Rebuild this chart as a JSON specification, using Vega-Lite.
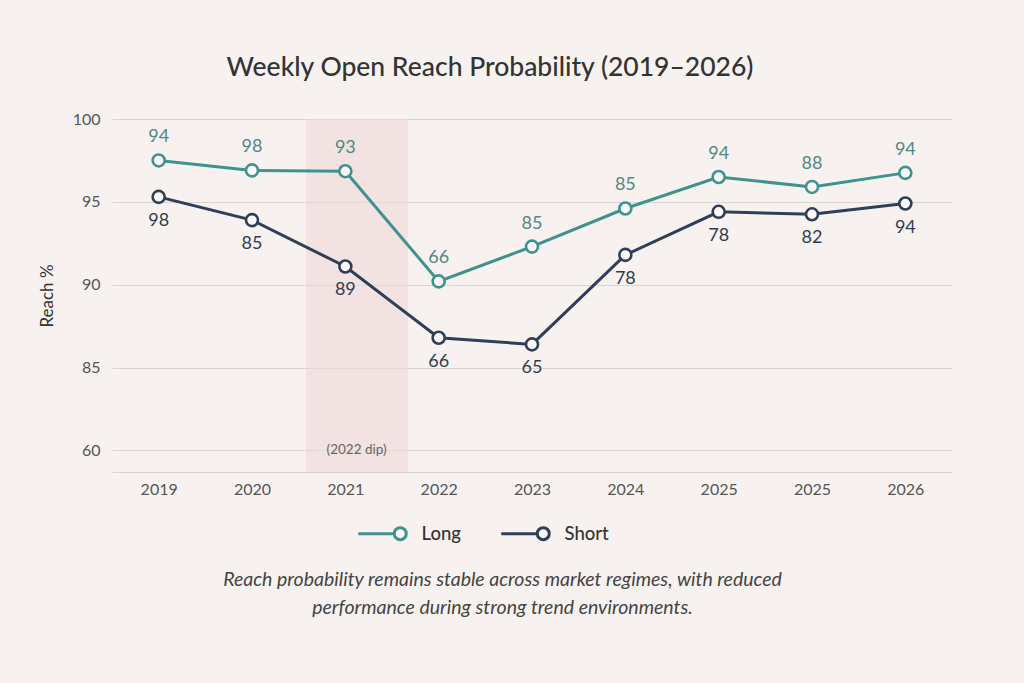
{
  "$schema": "https://vega.github.io/schema/vega-lite/v6.json",
  "autosize": {"type": "none"},
  "padding": {"left": 112, "top": 119, "right": 72, "bottom": 211},
  "width": 840,
  "height": 353,
  "background": "#f7f2f0",
  "config": {
    "view": {"stroke": null},
    "font": "Lato",
    "text": {"font": "Lato"}
  },
  "title": {
    "text": "Weekly Open Reach Probability (2019–2026)",
    "font": "Lato",
    "fontSize": 26.5,
    "fontWeight": 500,
    "color": "#333333",
    "anchor": "middle",
    "dx": -42,
    "offset": 30
  },
  "datasets": {
    "reach": [
      {"i": 0, "year": "2019", "series": "Long", "value": 97.5, "label": "94"},
      {"i": 1, "year": "2020", "series": "Long", "value": 96.9, "label": "98"},
      {"i": 2, "year": "2021", "series": "Long", "value": 96.85, "label": "93"},
      {"i": 3, "year": "2022", "series": "Long", "value": 90.2, "label": "66"},
      {"i": 4, "year": "2023", "series": "Long", "value": 92.3, "label": "85"},
      {"i": 5, "year": "2024", "series": "Long", "value": 94.6, "label": "85"},
      {"i": 6, "year": "2025", "series": "Long", "value": 96.5, "label": "94"},
      {"i": 7, "year": "2025", "series": "Long", "value": 95.9, "label": "88"},
      {"i": 8, "year": "2026", "series": "Long", "value": 96.75, "label": "94"},
      {"i": 0, "year": "2019", "series": "Short", "value": 95.3, "label": "98"},
      {"i": 1, "year": "2020", "series": "Short", "value": 93.9, "label": "85"},
      {"i": 2, "year": "2021", "series": "Short", "value": 91.1, "label": "89"},
      {"i": 3, "year": "2022", "series": "Short", "value": 86.8, "label": "66"},
      {"i": 4, "year": "2023", "series": "Short", "value": 86.4, "label": "65"},
      {"i": 5, "year": "2024", "series": "Short", "value": 91.8, "label": "78"},
      {"i": 6, "year": "2025", "series": "Short", "value": 94.4, "label": "78"},
      {"i": 7, "year": "2025", "series": "Short", "value": 94.25, "label": "82"},
      {"i": 8, "year": "2026", "series": "Short", "value": 94.9, "label": "94"}
    ],
    "band": [
      {"start": 1.58, "end": 2.67, "mid": 2.12, "top": 100, "bottom": 78.7, "labelAt": 80, "note": "(2022 dip)"}
    ]
  },
  "layer": [
    {
      "data": {"name": "band"},
      "mark": {"type": "rect", "fill": "#efd6d6", "opacity": 0.55},
      "encoding": {
        "x": {"field": "start", "type": "quantitative"},
        "x2": {"field": "end"},
        "y": {"field": "top", "type": "quantitative"},
        "y2": {"field": "bottom"}
      }
    },
    {
      "data": {"name": "band"},
      "mark": {"type": "text", "font": "Lato", "fontSize": 13.5, "color": "#666666", "baseline": "middle", "align": "center"},
      "encoding": {
        "x": {"field": "mid", "type": "quantitative"},
        "y": {"field": "labelAt", "type": "quantitative"},
        "text": {"field": "note"}
      }
    },
    {
      "data": {"name": "reach"},
      "mark": {"type": "line", "strokeWidth": 3},
      "encoding": {
        "x": {
          "field": "i",
          "type": "quantitative",
          "scale": {"domain": [-0.5, 8.5], "nice": false, "zero": false},
          "axis": {
            "values": [0, 1, 2, 3, 4, 5, 6, 7, 8],
            "labelExpr": "['2019','2020','2021','2022','2023','2024','2025','2025','2026'][datum.value]",
            "grid": false,
            "ticks": false,
            "domain": true,
            "domainColor": "#dcd4d2",
            "domainWidth": 1,
            "labelFont": "Lato",
            "labelFontSize": 16,
            "labelColor": "#555555",
            "labelPadding": 9,
            "title": ["Reach probability remains stable across market regimes, with reduced", "performance during strong trend environments."],
            "titleFont": "Lato",
            "titleFontSize": 19.5,
            "titleFontStyle": "italic",
            "titleFontWeight": "normal",
            "titleColor": "#444444",
            "titleAlign": "center",
            "titleBaseline": "top",
            "titleLineHeight": 28,
            "titleX": 390,
            "titleY": 98
          }
        },
        "y": {
          "field": "value",
          "type": "quantitative",
          "scale": {"domain": [78.7, 100], "nice": false, "zero": false},
          "axis": {
            "values": [80, 85, 90, 95, 100],
            "labelExpr": "datum.value == 80 ? '60' : datum.label",
            "grid": true,
            "gridColor": "#ddd5d3",
            "gridWidth": 1,
            "ticks": false,
            "domain": false,
            "labelFont": "Lato",
            "labelFontSize": 16,
            "labelColor": "#555555",
            "labelPadding": 12,
            "title": "Reach %",
            "titleFont": "Lato",
            "titleFontSize": 17,
            "titleFontWeight": "normal",
            "titleColor": "#333333",
            "titlePadding": 16
          }
        },
        "color": {
          "field": "series",
          "type": "nominal",
          "scale": {"domain": ["Long", "Short"], "range": ["#3f928e", "#2e3f57"]},
          "legend": {
            "orient": "none",
            "legendX": 279,
            "legendY": 405,
            "direction": "horizontal",
            "title": null,
            "padding": 0,
            "symbolType": "M-7,0L-1,0M-1,0A1,1 0 1,0 1,0A1,1 0 1,0 -1,0Z",
            "symbolSize": 144,
            "symbolStrokeWidth": 2.8,
            "columnPadding": 34,
            "labelFont": "Lato",
            "labelFontSize": 18.5,
            "labelFontWeight": 500,
            "labelColor": "#333333",
            "labelOffset": 12,
            "encode": {
              "symbols": {"update": {"fill": {"value": "#fbf8f7"}, "strokeWidth": {"value": 3}}}
            }
          }
        }
      }
    },
    {
      "data": {"name": "reach"},
      "mark": {"type": "point", "shape": "circle", "filled": false, "fill": "#fbf8f7", "fillOpacity": 1, "size": 144, "strokeWidth": 2.6, "opacity": 1},
      "encoding": {
        "x": {"field": "i", "type": "quantitative"},
        "y": {"field": "value", "type": "quantitative"},
        "color": {"field": "series", "type": "nominal"}
      }
    },
    {
      "data": {"name": "reach"},
      "transform": [{"filter": "datum.series == 'Long'"}],
      "mark": {"type": "text", "font": "Lato", "fontSize": 18, "dy": -23, "color": "#4f8784", "baseline": "middle"},
      "encoding": {
        "x": {"field": "i", "type": "quantitative"},
        "y": {"field": "value", "type": "quantitative"},
        "text": {"field": "label"}
      }
    },
    {
      "data": {"name": "reach"},
      "transform": [{"filter": "datum.series == 'Short'"}],
      "mark": {"type": "text", "font": "Lato", "fontSize": 18, "dy": 24, "color": "#2f3d4f", "baseline": "middle"},
      "encoding": {
        "x": {"field": "i", "type": "quantitative"},
        "y": {"field": "value", "type": "quantitative"},
        "text": {"field": "label"}
      }
    }
  ]
}
